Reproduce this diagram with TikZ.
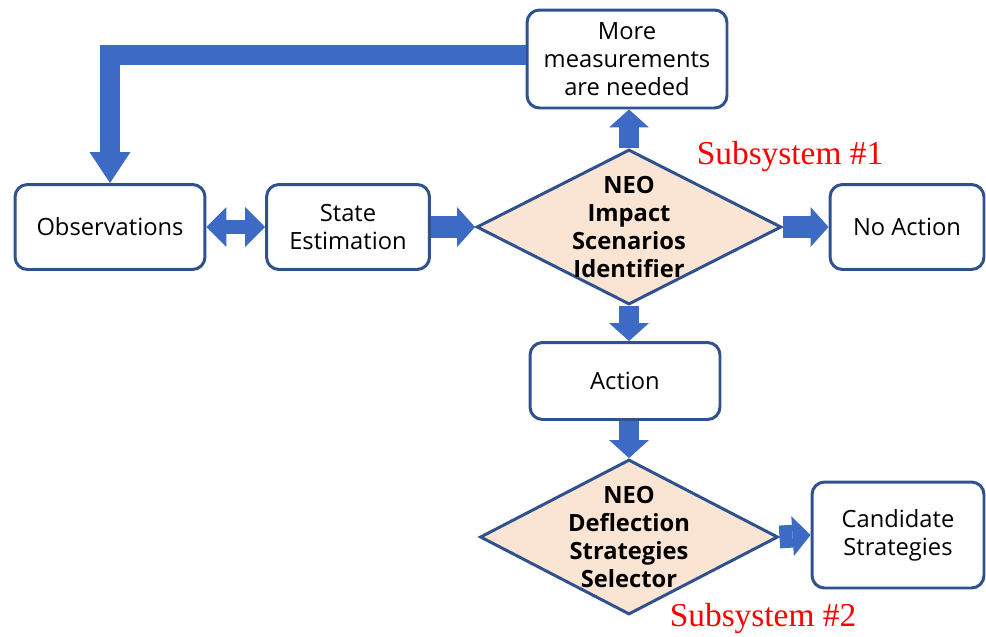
\documentclass[tikz,border=0pt]{standalone}
\usepackage{fontspec}
\setmainfont{Liberation Serif}
\newfontfamily\boxfont{Open Sans}
\usetikzlibrary{shapes.geometric}
\usetikzlibrary{arrows.meta}

\definecolor{boxline}{RGB}{47,82,143}
\definecolor{arrowblue}{RGB}{60,106,196}
\definecolor{decisionfill}{RGB}{250,228,212}

\begin{document}
\begin{tikzpicture}[x=0.02cm,y=-0.02cm,
  box/.style={draw=boxline,line width=1.7pt,rounded corners=0.25cm,fill=white,
    align=center,inner sep=0,font=\boxfont\fontsize{13.5}{16}\selectfont},
  decision/.style={diamond,draw=boxline,line width=1.7pt,fill=decisionfill,inner sep=0,
    minimum width=6.1cm,minimum height=3.1cm},
  inside/.style={align=center,font=\boxfont\bfseries\fontsize{13.5}{16}\selectfont},
  fat/.style={draw=arrowblue,line width=13pt,
    -{Triangle[width=0.8cm,length=0.36cm,line width=0pt]}},
  subsys/.style={text=red,font=\fontsize{19}{22}\selectfont}]
\useasboundingbox (0,0) rectangle (986,636);

% boxes
\node[box,minimum width=3.8cm,minimum height=1.7cm] (obs) at (110,227) {Observations};
\node[box,minimum width=3.26cm,minimum height=1.7cm] (state) at (348,227) {State\\Estimation};
\node[decision] (impact) at (629,227) {};
\node[inside] (impacttext) at (629,227) {NEO\\Impact\\Scenarios\\Identifier};
\node[box,minimum width=3.08cm,minimum height=1.7cm] (noaction) at (907,227) {No Action};
\node[box,minimum width=4cm,minimum height=1.96cm] (more) at (627,59) {More\\measurements\\are needed};
\node[box,minimum width=3.8cm,minimum height=1.54cm] (action) at (625,381) {Action};
\node[decision,minimum width=5.96cm] (selector) at (629,537) {};
\node[inside] (selectortext) at (629,537) {NEO\\Deflection\\Strategies\\Selector};
\node[box,minimum width=3.44cm,minimum height=2.12cm] (candidate) at (898,535) {Candidate\\Strategies};

\node[subsys] (sub1) at (790,157) {Subsystem \#1};
\node[subsys] (sub2) at (763,619) {Subsystem \#2};

% arrows
\draw[fat,line width=8pt,{Triangle[width=0.8cm,length=0.4cm,line width=0pt]}-{Triangle[width=0.8cm,length=0.4cm,line width=0pt]}]
  (obs.east) -- (state.west);
\draw[fat] (state.east) -- (impact.west);
\draw[fat] (impact.east) -- (noaction.west);
\draw[fat,line width=11pt] (impact.north) -- (impact.north |- more.south);
\draw[fat,line width=11pt] (impact.south) -- (impact.south |- action.north);
\draw[fat,line width=11pt] (action.south -| selector.north) -- (selector.north);
\draw[fat] (selector.east) -- (candidate.west);
\draw[fat,line width=11pt,miter limit=10,-{Triangle[width=0.82cm,length=0.62cm,line width=0pt]}]
  (more.west |- 0,55) -| (obs.north);

\end{tikzpicture}
\end{document}
